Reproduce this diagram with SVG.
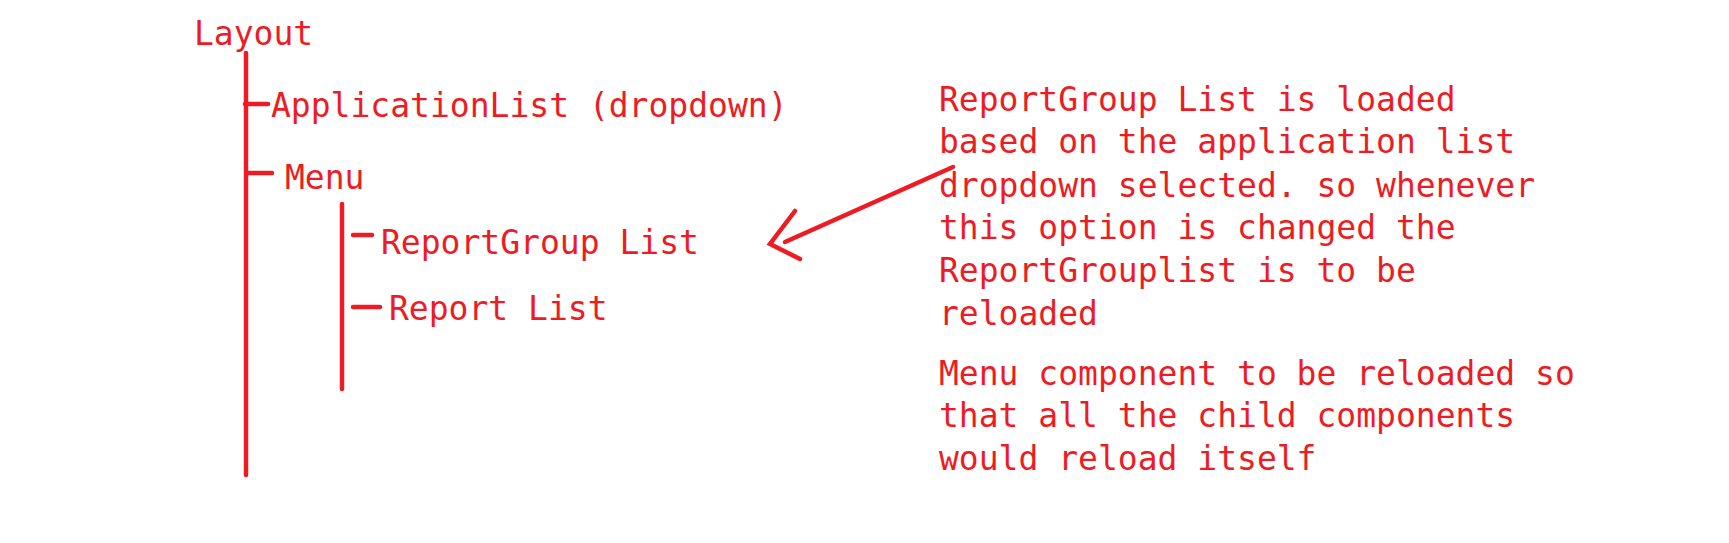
<svg xmlns="http://www.w3.org/2000/svg" width="1729" height="543" viewBox="0 0 1729 543">
  <style>
    .t { font-family: "DejaVu Sans Mono", "Liberation Mono", monospace; font-size: 33px; fill: #ED1C24; }
    .ln { stroke: #ED1C24; stroke-width: 4.5; stroke-linecap: round; fill: none; }
  </style>
  <rect width="1729" height="543" fill="#FFFFFF"/>
  <g id="connectors">
    <line class="ln" x1="246" y1="53" x2="246" y2="475"/>
    <line class="ln" x1="245" y1="104" x2="268" y2="104"/>
    <line class="ln" x1="248" y1="173" x2="272" y2="173"/>
    <line class="ln" x1="342" y1="204" x2="342" y2="389"/>
    <line class="ln" x1="353" y1="235" x2="372" y2="235"/>
    <line class="ln" x1="353" y1="307" x2="380" y2="307"/>
    <g id="arrow">
      <line class="ln" x1="953" y1="167" x2="785" y2="242"/>
      <polyline class="ln" points="795,211 770,244 800,259"/>
    </g>
  </g>
  <g id="node-layout"><text class="t" x="194" y="45">Layout</text></g>
  <g id="node-applicationlist"><text class="t" x="271" y="117">ApplicationList (dropdown)</text></g>
  <g id="node-menu"><text class="t" x="285" y="189">Menu</text></g>
  <g id="node-reportgroup"><text class="t" x="381" y="254">ReportGroup List</text></g>
  <g id="node-report"><text class="t" x="389" y="320">Report List</text></g>
  <g id="note-reportgroup">
    <text class="t" x="939" y="111">ReportGroup List is loaded</text>
    <text class="t" x="939" y="153">based on the application list</text>
    <text class="t" x="939" y="197">dropdown selected. so whenever</text>
    <text class="t" x="939" y="239">this option is changed the</text>
    <text class="t" x="939" y="282">ReportGrouplist is to be</text>
    <text class="t" x="939" y="325">reloaded</text>
  </g>
  <g id="note-menu">
    <text class="t" x="939" y="385">Menu component to be reloaded so</text>
    <text class="t" x="939" y="427">that all the child components</text>
    <text class="t" x="939" y="470">would reload itself</text>
  </g>
</svg>
